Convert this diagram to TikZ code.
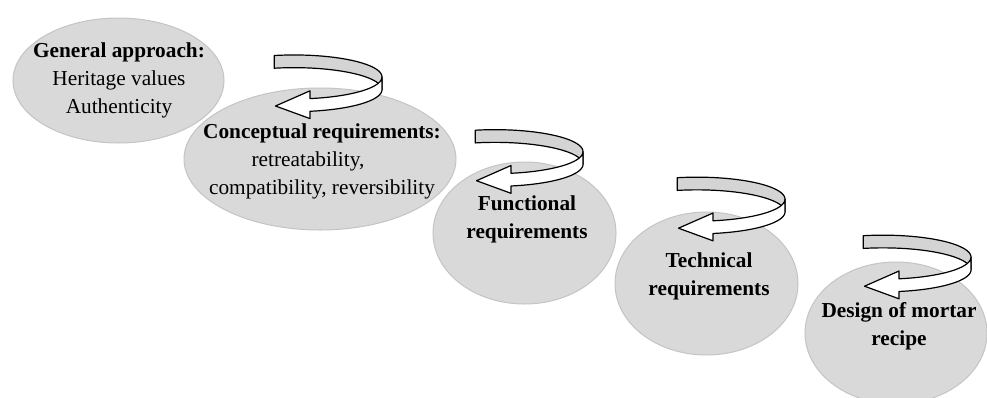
\documentclass[tikz,border=0pt]{standalone}
\usepackage{fontspec}
\setmainfont{Liberation Serif}
\usetikzlibrary{shapes.geometric}
\definecolor{ellfill}{HTML}{D9D9D9}
\definecolor{elldraw}{HTML}{C4C4C4}
\definecolor{bandgray}{HTML}{D4D4D4}
\tikzset{
  ell/.style={ellipse, fill=ellfill, draw=elldraw, line width=1pt, inner sep=0pt},
  lbl/.style={inner sep=0pt, anchor=base, font=\fontsize{21.3}{28}\selectfont},
  bandline/.style={draw=black, line width=1.2pt, line join=round},
  twist/.pic={
    \filldraw[bandline, fill=bandgray]
      plot[domain=-103:0, samples=30] ({20+88*cos(\x)},{22+22*sin(\x)-6.35})
      -- plot[domain=0:-103, samples=30] ({20+88*cos(\x)},{22+22*sin(\x)+6.35}) -- cycle;
    \filldraw[bandline, fill=white]
      plot[domain=0:79.5, samples=30] ({20+88*cos(\x)},{22+22*sin(\x)-6.35})
      -- (36,29.5) -- (1.5,44.7) -- (36,57.3)
      -- plot[domain=79.5:0, samples=30] ({20+88*cos(\x)},{22+22*sin(\x)+6.35}) -- cycle;
  }
}
\begin{document}
\begin{tikzpicture}[x=1pt,y=-1pt]
\useasboundingbox (0,0) rectangle (987,397);
\clip (0,0) rectangle (987,397);
% ellipses
\node[ell, minimum width=211pt, minimum height=125pt] (e1) at (118.5,80.5) {};
\node[ell, minimum width=272pt, minimum height=142pt] (e2) at (320,159) {};
\node[ell, minimum width=183pt, minimum height=142pt] (e3) at (524.5,233) {};
\node[ell, minimum width=183pt, minimum height=143pt] (e4) at (706.5,283.5) {};
\node[ell, minimum width=182pt, minimum height=142pt] (e5) at (896,333) {};
% texts
\node[lbl] (t1) at (119,57) {\begin{tabular}[t]{@{}c@{}}\textbf{General approach:}\\ Heritage values\\ Authenticity\end{tabular}};
\node[lbl] (t2) at (322,138) {\begin{tabular}[t]{@{}c@{}}\textbf{Conceptual requirements:}\\ retreatability,\hspace*{28pt}\\ compatibility, reversibility\end{tabular}};
\node[lbl] (t3) at (527,210) {\begin{tabular}[t]{@{}c@{}}\textbf{Functional}\\ \textbf{requirements}\end{tabular}};
\node[lbl] (t4) at (709,267) {\begin{tabular}[t]{@{}c@{}}\textbf{Technical}\\ \textbf{requirements}\end{tabular}};
\node[lbl] (t5) at (899,317) {\begin{tabular}[t]{@{}c@{}}\textbf{Design of mortar}\\ \textbf{recipe}\end{tabular}};
% twisted arrows
\pic (a1) at (274,61.3) {twist};
\pic (a2) at (475,136) {twist};
\pic (a3) at (677,183.5) {twist};
\pic (a4) at (863,241.5) {twist};
\end{tikzpicture}
\end{document}
